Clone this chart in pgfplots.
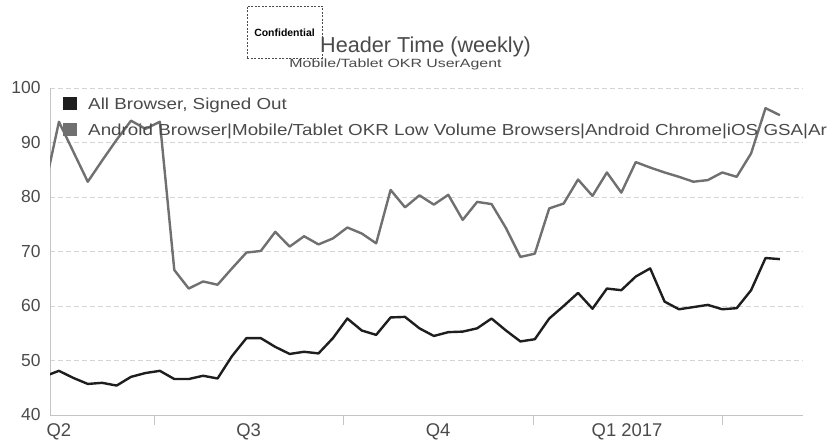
\documentclass[border=0pt]{standalone}
\usepackage{pgfplots}
\pgfplotsset{compat=1.18}
\usepackage{fontspec}
\setmainfont{Liberation Sans}
\newfontfamily\widefont{Liberation Sans}[FakeStretch=1.18]
\definecolor{serA}{HTML}{1E1E1E}
\definecolor{serB}{HTML}{707070}
\definecolor{txt}{HTML}{4A4A4A}
\definecolor{gridc}{HTML}{D4D4D4}
\definecolor{axc}{HTML}{C4C4C4}

\pgfplotstableread{
i val
-1 47.1
0 48.1
1 46.8
2 45.7
3 45.9
4 45.4
5 47.0
6 47.7
7 48.1
8 46.6
9 46.6
10 47.2
11 46.7
12 50.8
13 54.1
14 54.1
15 52.5
16 51.2
17 51.6
18 51.3
19 54.1
20 57.7
21 55.5
22 54.7
23 57.9
24 58.0
25 55.9
26 54.5
27 55.2
28 55.3
29 55.9
30 57.7
31 55.5
32 53.5
33 53.9
34 57.7
35 60.0
36 62.4
37 59.5
38 63.2
39 62.9
40 65.4
41 66.9
42 60.8
43 59.4
44 59.8
45 60.2
46 59.4
47 59.6
48 62.9
49 68.8
50 68.6
}\allbrowser

\pgfplotstableread{
i val
-1 81.5
0 93.8
1 88.3
2 82.8
3 86.7
4 90.5
5 94.0
6 92.5
7 93.8
8 66.6
9 63.2
10 64.5
11 63.9
12 66.9
13 69.8
14 70.1
15 73.6
16 70.9
17 72.8
18 71.3
19 72.4
20 74.4
21 73.3
22 71.5
23 81.3
24 78.1
25 80.3
26 78.6
27 80.4
28 75.8
29 79.1
30 78.7
31 74.3
32 69.0
33 69.6
34 77.9
35 78.8
36 83.2
37 80.2
38 84.5
39 80.8
40 86.4
41 85.4
42 84.5
43 83.7
44 82.8
45 83.1
46 84.5
47 83.7
48 88.0
49 96.3
50 95.0
}\android

\begin{document}
\begin{tikzpicture}[x=1bp,y=1bp]
\path[use as bounding box] (0,0) rectangle (833,444);
\begin{axis}[
  at={(50bp,29bp)}, anchor=south west,
  scale only axis, width=753bp, height=327bp,
  xmin=-0.62, xmax=51.6, ymin=40, ymax=100,
  clip=true,
  separate axis lines,
  axis x line*=bottom, axis y line*=left,
  x axis line style={-, draw=axc, line width=0.8bp},
  y axis line style={-, draw=axc, line width=0.8bp},
  xtick={0,13.15,26.3,39.4},
  xticklabels={Q2,Q3,Q4,Q1 2017},
  major tick length=0pt,
  xticklabel style={font=\fontsize{18.5}{18.5}\selectfont, text=txt, yshift=-5bp},
  extra x ticks={6.6,19.7,32.9,46.0},
  extra x tick labels={},
  extra x tick style={major tick length=10bp, tick align=outside, tick style={draw=axc, line width=0.8bp}, grid=none},
  ytick={40,50,...,100},
  ytick style={draw=none},
  yticklabel style={font=\fontsize{17.5}{17.5}\selectfont, text=txt, xshift=-6bp},
  /pgf/number format/assume math mode=true,
  ymajorgrids,
  major grid style={dash pattern=on 5bp off 3bp, draw=gridc, line width=0.8bp},
  legend style={draw=none, fill=none, at={(0.0173,0.975)}, anchor=north west,
    font=\widefont\fontsize{16}{16}\selectfont, text=txt, row sep=9bp, inner sep=0pt,
    nodes={inner sep=2bp}},
  legend cell align=left,
  legend image code/.code={\fill[draw=none] (0bp,-5.5bp) rectangle (13.5bp,7.5bp); \path[draw=none, fill=none] (0bp,0bp) -- (23bp,0bp);},
]
\addplot[color=serA, line width=2.4bp, line join=round] table[x=i, y=val] {\allbrowser};
\addlegendentry{All Browser, Signed Out}
\addplot[color=serB, line width=2.4bp, line join=round] table[x=i, y=val] {\android};
\addlegendentry{Android Browser|Mobile/Tablet OKR Low Volume Browsers|Android Chrome|iOS GSA|Ar}
\end{axis}
\draw[dash pattern=on 2bp off 1.5bp, draw=black!70, line width=0.7bp] (247,386) rectangle (322,438);
\node[font=\bfseries\fontsize{10.5}{10.5}\selectfont] at (284.5,411) {Confidential};
\node[font=\fontsize{21.7}{21.7}\selectfont, text=txt, anchor=base west, inner sep=0pt] at (320,391) {Header Time (weekly)};
\node[font=\fontsize{12}{12}\selectfont, text=txt, anchor=base, inner sep=0pt] at (395.5,376) {\scalebox{1.33}[1]{Mobile/Tablet OKR UserAgent}};
\end{tikzpicture}
\end{document}
